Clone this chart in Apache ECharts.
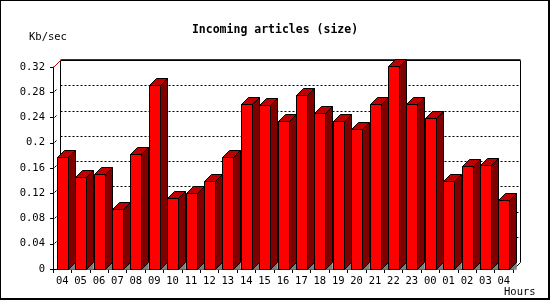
<!DOCTYPE html>
<html>
<head>
<meta charset="utf-8">
<script src="https://cdn.jsdelivr.net/npm/echarts@6/dist/echarts.min.js"></script>
<style>
html,body{margin:0;padding:0;background:#fff;}
#c{width:550px;height:300px;}
</style>
</head>
<body>
<div id="c"></div>
<script>
var titleText = 'Incoming articles (size)';
var yUnit = 'Kb/sec';
var xUnit = 'Hours';
var hours = ['04','05','06','07','08','09','10','11','12','13','14','15','16','17','18','19','20','21','22','23','00','01','02','03','04'];
var sizeKb = [0.177,0.145,0.150,0.095,0.182,0.292,0.112,0.120,0.139,0.177,0.262,0.260,0.234,0.275,0.247,0.234,0.221,0.262,0.321,0.261,0.239,0.139,0.163,0.164,0.110];
var yTicks = [0.04,0.08,0.12,0.16,0.2,0.24,0.28,0.32];

var FONT = '"DejaVu Sans Mono", monospace';
var D = 7;   // bar depth
var W = 7;   // wall depth

var chart = echarts.init(document.getElementById('c'), null, {renderer:'canvas'});

function wallItem(params, api) {
  var cs = params.coordSys;
  var x0 = Math.round(cs.x) + 0.5;
  var x1 = Math.round(cs.x + cs.width) + 0.5;
  var yb = Math.round(cs.y + cs.height) + 0.5;
  var yt = Math.round(cs.y) + 0.5;
  var ch = [];
  yTicks.forEach(function (v) {
    var y = Math.round(api.coord([0, v])[1]) + 0.5;
    if (v < 0.32) {
      ch.push({type:'line', shape:{x1:x0 + W, y1:y - W, x2:x1 + W, y2:y - W},
        style:{stroke:'#000', lineWidth:1, lineDash:[2,2]}});
      ch.push({type:'line', shape:{x1:x0 + 1, y1:y - 1, x2:x0 + 3, y2:y - 3},
        style:{stroke:'#000', lineWidth:1}});
    }
  });
  ch.push({type:'line', shape:{x1:x0 + W, y1:yt - W, x2:x0 + W, y2:yb - W}, style:{stroke:'#000', lineWidth:1}});
  ch.push({type:'line', shape:{x1:x1 + W, y1:yt - W, x2:x1 + W, y2:yb - W}, style:{stroke:'#000', lineWidth:1}});
  ch.push({type:'line', shape:{x1:x0 + W, y1:yt - W, x2:x1 + W, y2:yt - W}, style:{stroke:'#000', lineWidth:1}});
  ch.push({type:'line', shape:{x1:x0 + W, y1:yt - W - 1, x2:x1 + W, y2:yt - W - 1}, style:{stroke:'#c00000', lineWidth:1}});
  ch.push({type:'line', shape:{x1:x0, y1:yt, x2:x0 + W, y2:yt - W}, style:{stroke:'#c00000', lineWidth:1}});
  ch.push({type:'line', shape:{x1:x1, y1:yb, x2:x1 + W, y2:yb - W}, style:{stroke:'#000', lineWidth:1}});
  return {type:'group', children:ch};
}

function barItem(params, api) {
  var idx = api.value(0);
  var c = api.coord([idx, api.value(1)]);
  var b = api.coord([idx, 0]);
  var bw = Math.round(api.size([1, 0])[0] * 0.6);
  var xl = Math.round(c[0] - bw / 2) + 0.5;
  var xr = xl + bw;
  var yt = Math.round(c[1]) + 0.5;
  var y0 = Math.round(b[1]) + 0.5;
  return {type:'group', children:[
    {type:'polygon', shape:{points:[[xr, y0], [xr + D, y0 - D], [xr + D, y0]]},
      style:{fill:'#808080', stroke:'#808080', lineWidth:0.5}},
    {type:'polygon', shape:{points:[[xr, yt], [xr + D, yt - D], [xr + D, y0 - D], [xr, y0]]},
      style:{fill:'#800000', stroke:'#000', lineWidth:1}},
    {type:'polygon', shape:{points:[[xl, yt], [xl + D, yt - D], [xr + D, yt - D], [xr, yt]]},
      style:{fill:'#c00000', stroke:'#000', lineWidth:1}},
    {type:'rect', shape:{x:xl, y:yt, width:bw, height:y0 - yt},
      style:{fill:'#ff0000', stroke:'#000', lineWidth:1}}
  ]};
}

var option = {
  animation: false,
  backgroundColor: '#fff',
  title: {
    text: titleText, left: 'center', top: 19,
    textStyle: {fontFamily: FONT, fontWeight: 'bold', fontSize: 11.5, color: '#000'}
  },
  grid: {left: 53, top: 67, width: 460, height: 202, containLabel: false},
  xAxis: {
    type: 'category', data: hours, boundaryGap: true,
    axisLine: {show: true, lineStyle: {color: '#000', width: 1}},
    axisTick: {show: true, length: 4, alignWithLabel: false, interval: 0, lineStyle: {color: '#000'}},
    axisLabel: {interval: 0, margin: 7, fontFamily: FONT, fontSize: 10.5, color: '#000'},
    splitLine: {show: false}
  },
  yAxis: {
    type: 'value', min: 0, max: 0.32, interval: 0.04,
    axisLine: {show: true, lineStyle: {color: '#000', width: 1}},
    axisTick: {show: true, length: 3, lineStyle: {color: '#000'}},
    axisLabel: {margin: 8, fontFamily: FONT, fontSize: 10.5, color: '#000'},
    splitLine: {show: false}
  },
  graphic: [
    {type:'text', left: 29, top: 32, style:{text: yUnit, font: '10.5px ' + FONT, fill:'#000'}},
    {type:'text', left: 504, top: 287, style:{text: xUnit, font: '10.5px ' + FONT, fill:'#000'}},
    {type:'line', shape:{x1:0.5, y1:0, x2:0.5, y2:300}, style:{stroke:'#000', lineWidth:1}},
    {type:'line', shape:{x1:0, y1:0.5, x2:550, y2:0.5}, style:{stroke:'#000', lineWidth:1}},
    {type:'rect', shape:{x:548, y:0, width:2, height:300}, style:{fill:'#000'}},
    {type:'rect', shape:{x:0, y:298, width:550, height:2}, style:{fill:'#000'}}
  ],
  series: [
    {type:'custom', name:'wall', renderItem: wallItem, data: [[0, 0]], clip: false, z: 1, silent: true},
    {type:'custom', name:'size', renderItem: barItem,
      data: sizeKb.map(function (v, i) { return [i, v]; }),
      encode: {x: 0, y: 1}, clip: false, z: 3}
  ]
};
chart.setOption(option);
</script>
</body>
</html>
